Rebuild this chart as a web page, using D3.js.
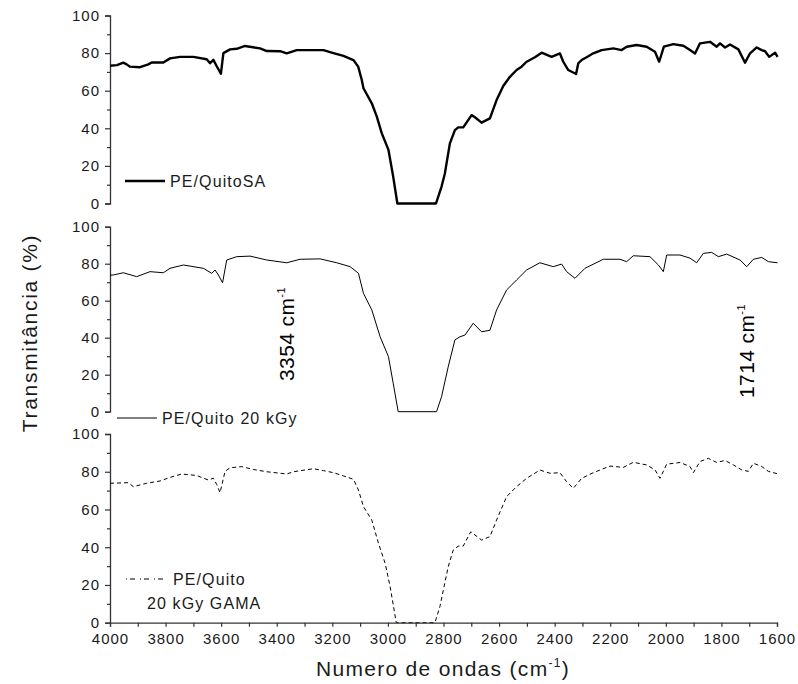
<!DOCTYPE html>
<html>
<head>
<meta charset="utf-8">
<script src="https://cdn.jsdelivr.net/npm/d3@7"></script>
<style>
  html, body { margin: 0; padding: 0; background: #fff; }
  svg { display: block; font-family: "Liberation Sans", Arial, sans-serif; }
</style>
</head>
<body>
<svg id="chart" width="798" height="684"></svg>
<script>
// FTIR spectra: wavenumber (cm-1) vs transmittance (%)
const quitoSA = [[4000,73.3],[3975,73.6],[3952,74.9],[3940,74],[3928,72.8],[3892,72.5],[3862,74],[3850,75],[3808,75],[3784,77.2],[3748,78],[3700,78],[3652,76.7],[3640,74.6],[3628,76.4],[3616,73],[3601,69],[3592,80],[3568,82],[3544,82.3],[3514,83.8],[3460,82.5],[3436,81.1],[3388,81],[3364,79.9],[3328,81.6],[3232,81.6],[3196,80],[3160,78.5],[3124,76.3],[3107,72.8],[3094,65.7],[3088,61.3],[3058,53.3],[3040,46.2],[3022,37.3],[2998,28.5],[2981,14.3],[2966,0],[2827,0],[2807,9],[2795,16],[2777,32],[2759,39],[2747,40.5],[2729,40.5],[2699,47],[2687,45.9],[2663,43],[2633,45.3],[2609,55],[2585,62.5],[2561,67.4],[2537,71],[2519,72.8],[2501,75.4],[2471,77.8],[2447,80.2],[2411,78],[2381,79.8],[2369,75.4],[2351,71],[2323,68.9],[2315,74.6],[2303,76.3],[2285,77.8],[2261,79.9],[2231,81.6],[2189,82.5],[2159,81.6],[2141,83.4],[2105,84.3],[2069,83.4],[2039,80.7],[2024,75.4],[2007,83.4],[1973,84.8],[1937,83.9],[1913,81.6],[1895,79.8],[1877,85.2],[1841,86],[1817,83.4],[1805,85.2],[1787,83],[1769,84.6],[1739,82],[1715,74.9],[1697,79.9],[1673,83],[1655,81.6],[1643,81],[1628,78],[1607,80.2],[1598,78]];

const quito20 = [[4000,73.8],[3988,73.9],[3952,75.1],[3904,73],[3856,75.7],[3808,75.1],[3784,77.5],[3736,79.3],[3664,77.5],[3634,74.8],[3622,76.6],[3610,73.9],[3595,69.7],[3580,82],[3544,83.8],[3496,84.1],[3436,82],[3364,80.5],[3316,82.4],[3244,82.6],[3184,80.5],[3136,78.4],[3106,74.8],[3088,64],[3058,55],[3028,40.5],[2998,29.7],[2981,15.4],[2963,0],[2825,0],[2807,8.1],[2783,24.3],[2759,38.8],[2741,40.5],[2723,41.4],[2693,47.8],[2663,43.2],[2633,44],[2609,55],[2573,65.8],[2537,71.2],[2501,76.6],[2453,80.5],[2405,78.4],[2375,79.8],[2357,75.7],[2327,72.1],[2291,77.5],[2225,82.4],[2165,82.4],[2141,81.1],[2117,84.3],[2057,83.8],[2027,79.3],[2009,75.7],[1997,84.7],[1949,84.7],[1913,83],[1889,80.5],[1865,85.6],[1835,86.1],[1811,83.8],[1781,85.2],[1733,82],[1709,78.4],[1685,82.4],[1655,83.4],[1631,81.1],[1598,80.5]];

const quitoGama = [[4000,73.9],[3934,74.2],[3916,72.1],[3868,73.9],[3820,75.1],[3784,77],[3742,78.8],[3688,78],[3646,75.6],[3628,76.6],[3616,73.2],[3604,68.9],[3586,80.2],[3568,82.1],[3526,82.7],[3484,81.2],[3436,80],[3364,78.8],[3340,80],[3268,81.6],[3232,80.6],[3196,79.5],[3160,77.8],[3124,76],[3106,70.3],[3088,61.5],[3058,54.4],[3034,42.1],[3010,31.5],[2992,19.1],[2970,0],[2831,0],[2813,8.5],[2783,29.7],[2765,38.5],[2747,40.6],[2729,40.6],[2702,48.2],[2663,43.8],[2633,45.6],[2609,54.4],[2573,66.8],[2537,72.1],[2501,76.5],[2453,80.9],[2417,79.2],[2381,79.5],[2357,74.7],[2333,71.2],[2303,76.5],[2261,79.5],[2201,83],[2153,82.3],[2117,85],[2069,83.6],[2039,81],[2021,76.5],[1997,84],[1949,84.9],[1913,82.8],[1901,79.5],[1877,85.4],[1847,87.1],[1817,84.9],[1787,86],[1757,83.6],[1727,81],[1703,80.2],[1685,84.5],[1655,82.8],[1631,80.2],[1600,79]];

// Axis ticks
const xMajorTicks = [4000,3800,3600,3400,3200,3000,2800,2600,2400,2200,2000,1800,1600];
const xMinorTicks = [3900,3700,3500,3300,3100,2900,2700,2500,2300,2100,1900,1700];
const yMajorTicks = [0,20,40,60,80,100];
const yMinorTicks = [10,30,50,70,90];

// Legend labels and band annotations
const seriesLabels = [["PE/QuitoSA"], ["PE/Quito 20 kGy"], ["PE/Quito", "20 kGy GAMA"]];
const bandLabels = [["3354", 3354], ["1714", 1714]];

const svg = d3.select("#chart");
const axisColor = "#333";
const textColor = "#1a1a1a";

const x = d3.scaleLinear().domain([4000, 1600]).range([110, 777]);

const panels = [
  { data: quitoSA,   y0: 203.5, y1: 15.5,  width: 2.4, dash: null },
  { data: quito20,   y0: 411.7, y1: 226.7, width: 1,   dash: null },
  { data: quitoGama, y0: 622.7, y1: 434,   width: 1,   dash: "4,3" }
];

panels.forEach((p, i) => {
  const y = d3.scaleLinear().domain([0, 100]).range([p.y0, p.y1]);
  const g = svg.append("g");

  // left axis: labelled majors plus short minors
  const yAxis = d3.axisLeft(y).tickValues(yMajorTicks).tickSize(5).tickPadding(5).tickFormat(d3.format("d"));
  const ga = g.append("g").attr("transform", "translate(110,0)").call(yAxis);
  ga.select(".domain").attr("stroke", axisColor).attr("stroke-width", 1.3);
  ga.selectAll(".tick line").attr("stroke", axisColor).attr("stroke-width", 1.2);
  ga.selectAll(".tick text").attr("fill", textColor).style("font-size", "15px").style("letter-spacing", "1px");
  g.append("g").attr("transform", "translate(110,0)")
    .call(d3.axisLeft(y).tickValues(yMinorTicks).tickSize(3).tickFormat(""))
    .call(s => s.select(".domain").remove())
    .selectAll(".tick line").attr("stroke", axisColor).attr("stroke-width", 1.2);

  const line = d3.line().x(d => x(d[0])).y(d => y(d[1]));
  g.append("path").datum(p.data)
    .attr("d", line)
    .attr("fill", "none")
    .attr("stroke", "#000")
    .attr("stroke-width", p.width)
    .attr("stroke-linejoin", "round")
    .attr("stroke-dasharray", p.dash);

  p.yScale = y;
});

// bottom axis on the lowest panel
const bottomY = panels[2].y0;
const xa = svg.append("g").attr("transform", `translate(0,${bottomY})`)
  .call(d3.axisBottom(x).tickValues(xMajorTicks).tickSize(4).tickPadding(7).tickFormat(d3.format("d")));
xa.select(".domain").attr("stroke", axisColor).attr("stroke-width", 1.3);
xa.selectAll(".tick line").attr("stroke", axisColor).attr("stroke-width", 1.2);
xa.selectAll(".tick text").attr("fill", textColor).style("font-size", "15px").style("letter-spacing", "1px");
svg.append("g").attr("transform", `translate(0,${bottomY})`)
  .call(d3.axisBottom(x).tickValues(xMinorTicks).tickSize(4).tickFormat(""))
  .call(s => s.select(".domain").remove())
  .selectAll(".tick line").attr("stroke", axisColor).attr("stroke-width", 1.2);

// axis titles
const xt = svg.append("text").attr("x", 443).attr("y", 676).attr("text-anchor", "middle")
  .attr("fill", textColor).style("font-size", "21px").style("letter-spacing", "1.3px");
xt.append("tspan").text("Numero de ondas (cm");
xt.append("tspan").attr("dy", -9).style("font-size", "12px").text("-1");
xt.append("tspan").attr("dy", 9).text(")");

svg.append("text").attr("transform", "translate(37,333) rotate(-90)").attr("text-anchor", "middle")
  .attr("fill", textColor).style("font-size", "21px").style("letter-spacing", "1.7px")
  .text("Transmitância (%)");

// legends
const legendStyle = [
  { x1: 125, x2: 165, y: 181, tx: 170, ty: 187 },
  { x1: 117, x2: 157, y: 418, tx: 162, ty: 424 },
  { x1: 126, x2: 167, y: 579, tx: 173, ty: 585 }
];
legendStyle.forEach((L, i) => {
  svg.append("line").attr("x1", L.x1).attr("x2", L.x2).attr("y1", L.y).attr("y2", L.y)
    .attr("stroke", "#000").attr("stroke-width", panels[i].width)
    .attr("stroke-dasharray", i === 2 ? "1,3,5,5" : null);
  svg.append("text").attr("x", L.tx).attr("y", L.ty).attr("fill", textColor)
    .style("font-size", "16px").style("letter-spacing", "1.1px").text(seriesLabels[i][0]);
});
svg.append("text").attr("x", 147).attr("y", 609).attr("fill", textColor)
  .style("font-size", "16px").style("letter-spacing", "1.1px").text(seriesLabels[2][1]);

// band annotations (rotated), placed just right of their wavenumbers
const bandPos = [{ y: 381, dx: 4.5 }, { y: 398, dx: 9 }];
bandLabels.forEach((b, i) => {
  const bx = x(b[1]) + bandPos[i].dx;
  const t = svg.append("text")
    .attr("transform", `translate(${bx},${bandPos[i].y}) rotate(-90)`)
    .attr("fill", "#000").style("font-size", "21px").style("letter-spacing", "0.4px");
  t.append("tspan").text(b[0] + " cm");
  t.append("tspan").attr("dy", -9).style("font-size", "11px").text("-1");
});
</script>
</body>
</html>
